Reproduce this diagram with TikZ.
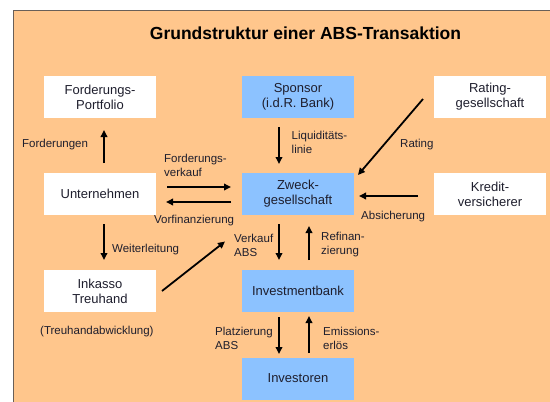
\documentclass[tikz,border=0pt]{standalone}
\usepackage{fontspec}
\setmainfont{Liberation Sans}
\usetikzlibrary{arrows.meta}
\definecolor{bgorange}{RGB}{255,198,140}
\definecolor{boxblue}{RGB}{140,194,255}
\definecolor{framegray}{RGB}{105,95,88}
\definecolor{txt}{RGB}{30,30,45}
\tikzset{
  box/.style={minimum width=112pt, minimum height=42pt, inner sep=0pt, align=center,
    text=txt, font=\fontsize{13}{15}\selectfont},
  whitebox/.style={box, fill=white},
  bluebox/.style={box, fill=boxblue},
  lbl/.style={inner sep=0pt, anchor=west, align=left, text=txt, font=\fontsize{11.5}{14}\selectfont},
  arr/.style={line width=1.8pt, -{Triangle[length=7pt,width=6.5pt]}}
}
\begin{document}
\begin{tikzpicture}[x=1pt,y=-1pt]
\useasboundingbox (0,0) rectangle (550,402);
\fill[bgorange] (13.3,10.7) rectangle (550,402);
\draw[framegray, line width=1.3pt] (13.3,402) -- (13.3,10.7) -- (550,10.7);

\node[font=\fontsize{17.5}{20}\selectfont\bfseries, text=black] (title) at (305.5,33) {Grundstruktur einer ABS-Transaktion};

% boxes
\node[whitebox] (port) at (100,97) {Forderungs-\\Portfolio};
\node[bluebox]  (spon) at (298,97) {Sponsor\\(i.d.R. Bank)};
\node[whitebox] (rate) at (490,97) {Rating-\\gesellschaft};
\node[whitebox] (unt)  at (100,194) {Unternehmen};
\node[bluebox]  (zweck) at (298,194) {Zweck-\\gesellschaft};
\node[whitebox] (kred) at (490,194) {Kredit-\\versicherer};
\node[whitebox] (ink)  at (100,291) {Inkasso\\Treuhand};
\node[bluebox]  (ib)   at (298,291) {Investmentbank};
\node[bluebox]  (inv)  at (298,378.5) {Investoren};

% arrow end points
\coordinate (a1s) at (104,163); \coordinate (a1e) at (104,130);
\coordinate (a2s) at (104,224); \coordinate (a2e) at (104,260);
\coordinate (a3s) at (279,127); \coordinate (a3e) at (279,164);
\coordinate (a4s) at (423,99);  \coordinate (a4e) at (358,175);
\coordinate (a5s) at (167,187); \coordinate (a5e) at (231,187);
\coordinate (a6s) at (231,202); \coordinate (a6e) at (166,202);
\coordinate (a7s) at (418,196); \coordinate (a7e) at (359,196);
\coordinate (a8s) at (279,224); \coordinate (a8e) at (279,260);
\coordinate (a9s) at (309,260); \coordinate (a9e) at (309,226);
\coordinate (a10s) at (162,291); \coordinate (a10e) at (225,241.5);
\coordinate (a11s) at (279,317); \coordinate (a11e) at (279,354);
\coordinate (a12s) at (309,353); \coordinate (a12e) at (309,316);

\draw[arr] (a1s) -- (a1e);
\draw[arr] (a2s) -- (a2e);
\draw[arr] (a3s) -- (a3e);
\draw[arr] (a4s) -- (a4e);
\draw[arr] (a5s) -- (a5e);
\draw[arr] (a6s) -- (a6e);
\draw[arr] (a7s) -- (a7e);
\draw[arr] (a8s) -- (a8e);
\draw[arr] (a9s) -- (a9e);
\draw[arr] (a10s) -- (a10e);
\draw[arr] (a11s) -- (a11e);
\draw[arr] (a12s) -- (a12e);

% labels
\node[lbl] (lford) at (22,145) {Forderungen};
\node[lbl] (lliq) at (291.5,142) {Liquiditäts-\\linie};
\node[lbl] (lrat) at (400,145) {Rating};
\node[lbl] (lfv) at (164,165.5) {Forderungs-\\verkauf};
\node[lbl] (lvor) at (154,221) {Vorfinanzierung};
\node[lbl] (labs) at (361,217) {Absicherung};
\node[lbl] (lverk) at (234,245) {Verkauf\\ABS};
\node[lbl] (lref) at (321,245) {Refinan-\\zierung};
\node[lbl] (lweit) at (112,250) {Weiterleitung};
\node[lbl] (ltreu) at (40,331.5) {(Treuhandabwicklung)};
\node[lbl] (lplatz) at (215,338) {Platzierung\\ABS};
\node[lbl] (lemi) at (323,338) {Emissions-\\erlös};
\end{tikzpicture}
\end{document}
